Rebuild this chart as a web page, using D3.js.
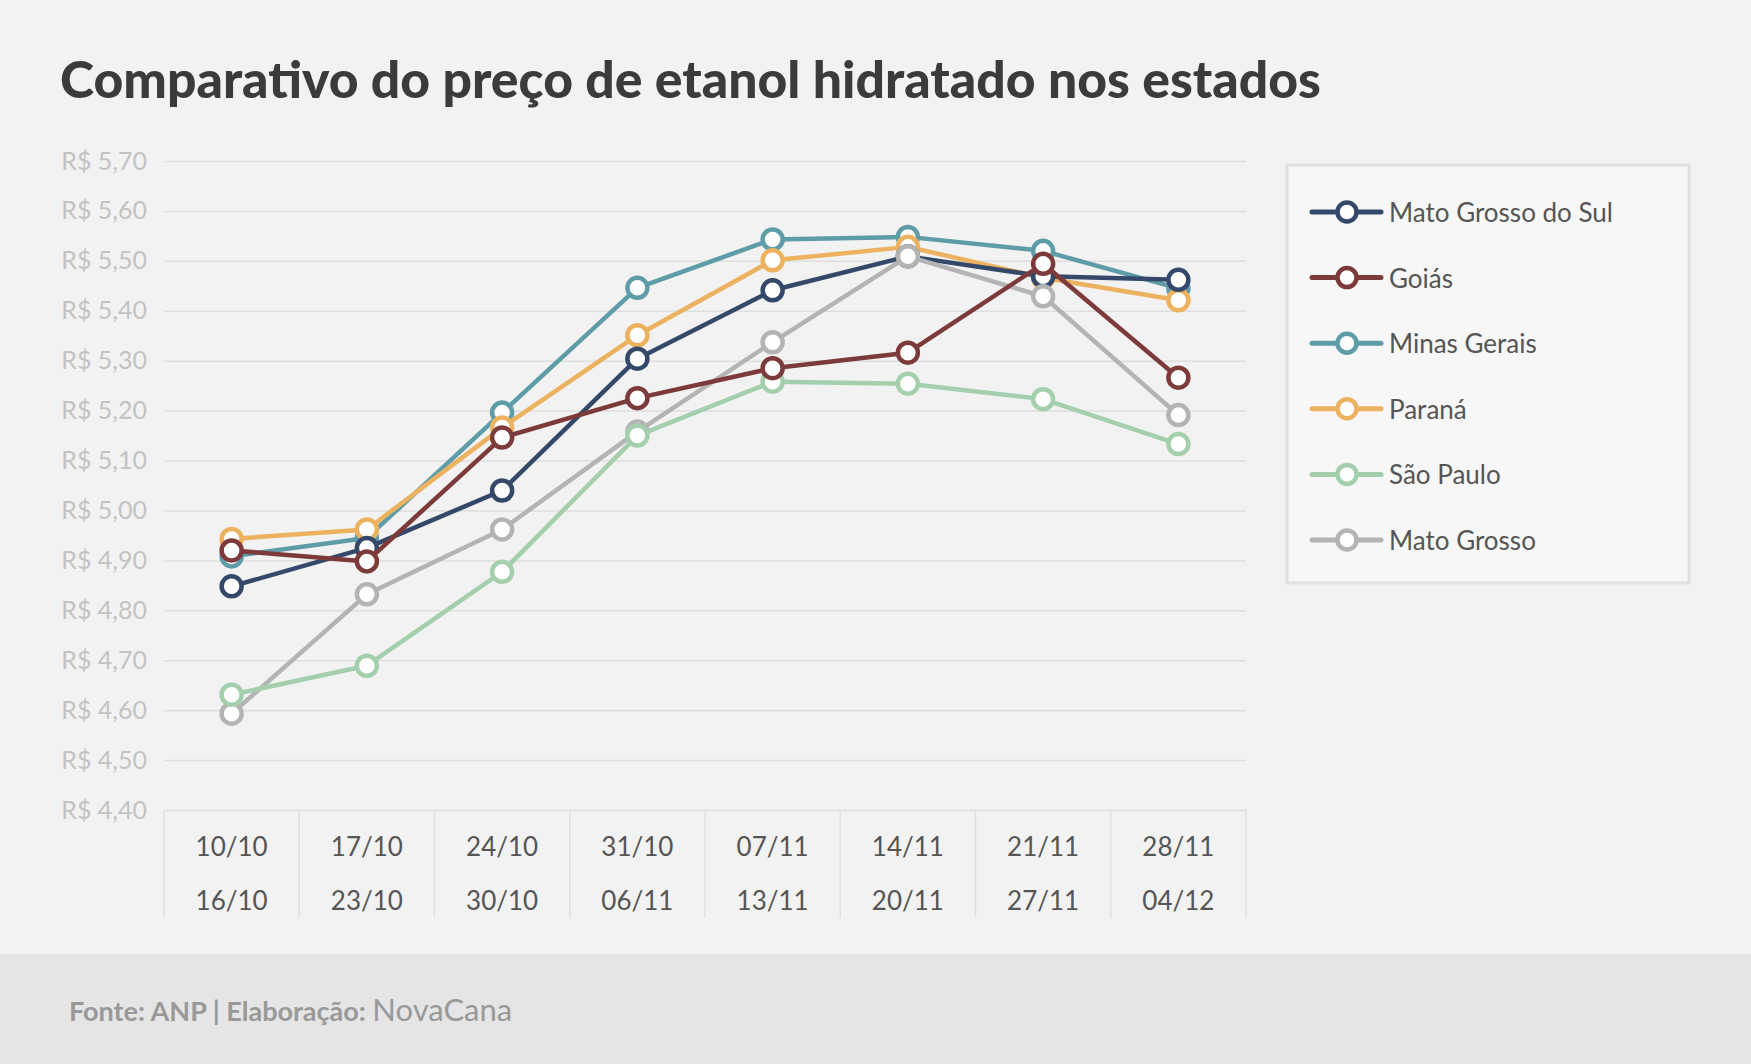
<!DOCTYPE html>
<html>
<head>
<meta charset="utf-8">
<script src="https://cdn.jsdelivr.net/npm/d3@7"></script>
<style>
    body { margin: 0; background: #f2f2f2; }
    text { font-family: Lato, "Open Sans", sans-serif; }
</style>
</head>
<body>
<div id="canvas"></div>
<script>
"use strict"

/* Data: weekly price of hydrated ethanol (R$/litre), ANP */
let weekStart = ["10/10", "17/10", "24/10", "31/10", "07/11", "14/11", "21/11", "28/11"];
let weekEnd = ["16/10", "23/10", "30/10", "06/11", "13/11", "20/11", "27/11", "04/12"];

let states = ["Mato Grosso do Sul", "Goiás", "Minas Gerais", "Paraná", "São Paulo", "Mato Grosso"];
let stateColors = ["#34496a", "#7d3a3a", "#5e9ca8", "#ecb25f", "#a3cfad", "#b4b4b4"];

let priceMS = [4.848, 4.925, 5.040, 5.304, 5.441, 5.509, 5.469, 5.462];
let priceGO = [4.920, 4.898, 5.146, 5.225, 5.285, 5.316, 5.494, 5.266];
let priceMG = [4.908, 4.945, 5.196, 5.446, 5.543, 5.548, 5.520, 5.445];
let pricePR = [4.943, 4.962, 5.166, 5.351, 5.501, 5.528, 5.466, 5.421];
let priceSP = [4.631, 4.689, 4.877, 5.150, 5.258, 5.254, 5.223, 5.133];
let priceMT = [4.593, 4.832, 4.962, 5.158, 5.337, 5.509, 5.429, 5.191];

let yTicks = [4.40, 4.50, 4.60, 4.70, 4.80, 4.90, 5.00, 5.10, 5.20, 5.30, 5.40, 5.50, 5.60, 5.70];

/* drawing order: later series sit on top */
let drawOrder = [2, 3, 0, 5, 4, 1];

/* Configuration variables */
let svgWidth = 1751;
let svgHeight = 1064;
let plotLeft = 164;
let plotRight = 1246;
let plotTop = 161;
let plotBottom = 810;
let footerTop = 954;

let seriesValues = [priceMS, priceGO, priceMG, pricePR, priceSP, priceMT];

let svg = d3.select("#canvas")
    .append("svg")
    .attr("width", svgWidth)
    .attr("height", svgHeight);

svg.append("rect")
    .attr("width", svgWidth)
    .attr("height", svgHeight)
    .attr("fill", "#f2f2f2");

/* footer band */
svg.append("rect")
    .attr("y", footerTop)
    .attr("width", svgWidth)
    .attr("height", svgHeight - footerTop)
    .attr("fill", "#e5e5e5");

/* title */
svg.append("text")
    .attr("x", 60)
    .attr("y", 98)
    .attr("font-size", 51.7)
    .attr("font-weight", 900)
    .attr("fill", "#3b3b3b")
    .text("Comparativo do preço de etanol hidratado nos estados");

/* scales */
let xScale = d3.scaleBand()
    .domain(weekStart)
    .range([plotLeft, plotRight]);

let yScale = d3.scaleLinear()
    .domain([4.40, 5.70])
    .range([plotBottom, plotTop]);

/* brazilian number format for the y labels */
let ptBR = d3.formatLocale({ decimal: ",", thousands: ".", grouping: [3], currency: ["R$ ", ""] });
let formatPrice = ptBR.format("$.2f");

/* y axis with gridlines */
let yAxis = svg.append("g")
    .attr("transform", `translate(${plotLeft},0)`)
    .call(d3.axisLeft(yScale)
        .tickValues(yTicks)
        .tickSize(-(plotRight - plotLeft))
        .tickPadding(17)
        .tickFormat(formatPrice));

yAxis.select(".domain").remove();
yAxis.selectAll(".tick line")
    .attr("stroke", "#dedede")
    .attr("stroke-width", 1.5);
yAxis.selectAll(".tick text")
    .attr("font-family", "Lato, sans-serif")
    .attr("font-size", 25)
    .attr("fill", "#c3c3c3");

/* x axis: separators between weeks and two line labels */
let xAxis = svg.append("g");

xAxis.selectAll("line.sep")
    .data(weekStart.concat(["end"]))
    .join("line")
    .attr("class", "sep")
    .attr("x1", function (d, i) { return plotLeft + i * xScale.step(); })
    .attr("x2", function (d, i) { return plotLeft + i * xScale.step(); })
    .attr("y1", plotBottom)
    .attr("y2", 918)
    .attr("stroke", "#e0e0e0")
    .attr("stroke-width", 1.5);

xAxis.selectAll("text.start")
    .data(weekStart)
    .join("text")
    .attr("class", "start")
    .attr("x", function (d) { return xScale(d) + xScale.bandwidth() / 2; })
    .attr("y", 856)
    .attr("text-anchor", "middle")
    .attr("font-size", 26)
    .attr("fill", "#555555")
    .text(function (d) { return d; });

xAxis.selectAll("text.end")
    .data(weekEnd)
    .join("text")
    .attr("class", "end")
    .attr("x", function (d, i) { return xScale(weekStart[i]) + xScale.bandwidth() / 2; })
    .attr("y", 910)
    .attr("text-anchor", "middle")
    .attr("font-size", 26)
    .attr("fill", "#555555")
    .text(function (d) { return d; });

/* lines and markers */
let line = d3.line()
    .x(function (d, i) { return xScale(weekStart[i]) + xScale.bandwidth() / 2; })
    .y(function (d) { return yScale(d); });

for (let k = 0; k < drawOrder.length; k++) {
    let s = drawOrder[k];
    let g = svg.append("g");

    g.append("path")
        .datum(seriesValues[s])
        .attr("d", line)
        .attr("fill", "none")
        .attr("stroke", stateColors[s])
        .attr("stroke-width", 4.5)
        .attr("stroke-linejoin", "round");

    g.selectAll("circle")
        .data(seriesValues[s])
        .join("circle")
        .attr("cx", function (d, i) { return xScale(weekStart[i]) + xScale.bandwidth() / 2; })
        .attr("cy", function (d) { return yScale(d); })
        .attr("r", 10)
        .attr("fill", "white")
        .attr("stroke", stateColors[s])
        .attr("stroke-width", 4.5);
}

/* legend box */
svg.append("rect")
    .attr("x", 1287)
    .attr("y", 165)
    .attr("width", 402)
    .attr("height", 418)
    .attr("fill", "#f7f7f7")
    .attr("stroke", "#e0e0e0")
    .attr("stroke-width", 3);

for (let i = 0; i < states.length; i++) {
    let rowY = 212 + i * 65.6;

    svg.append("line")
        .attr("x1", 1312)
        .attr("x2", 1381)
        .attr("y1", rowY)
        .attr("y2", rowY)
        .attr("stroke", stateColors[i])
        .attr("stroke-width", 5)
        .attr("stroke-linecap", "round");

    svg.append("circle")
        .attr("cx", 1347)
        .attr("cy", rowY)
        .attr("r", 9.5)
        .attr("fill", "white")
        .attr("stroke", stateColors[i])
        .attr("stroke-width", 4.5);

    svg.append("text")
        .attr("x", 1389)
        .attr("y", rowY)
        .attr("dominant-baseline", "central")
        .attr("font-size", 26)
        .attr("fill", "#555555")
        .text(states[i]);
}

/* source */
let source = svg.append("text")
    .attr("x", 69)
    .attr("y", 1021)
    .attr("fill", "#999999");

source.append("tspan")
    .attr("font-size", 27)
    .attr("font-weight", 700)
    .text("Fonte: ANP | Elaboração: ");

source.append("tspan")
    .attr("font-size", 31)
    .text("NovaCana");
</script>
</body>
</html>
